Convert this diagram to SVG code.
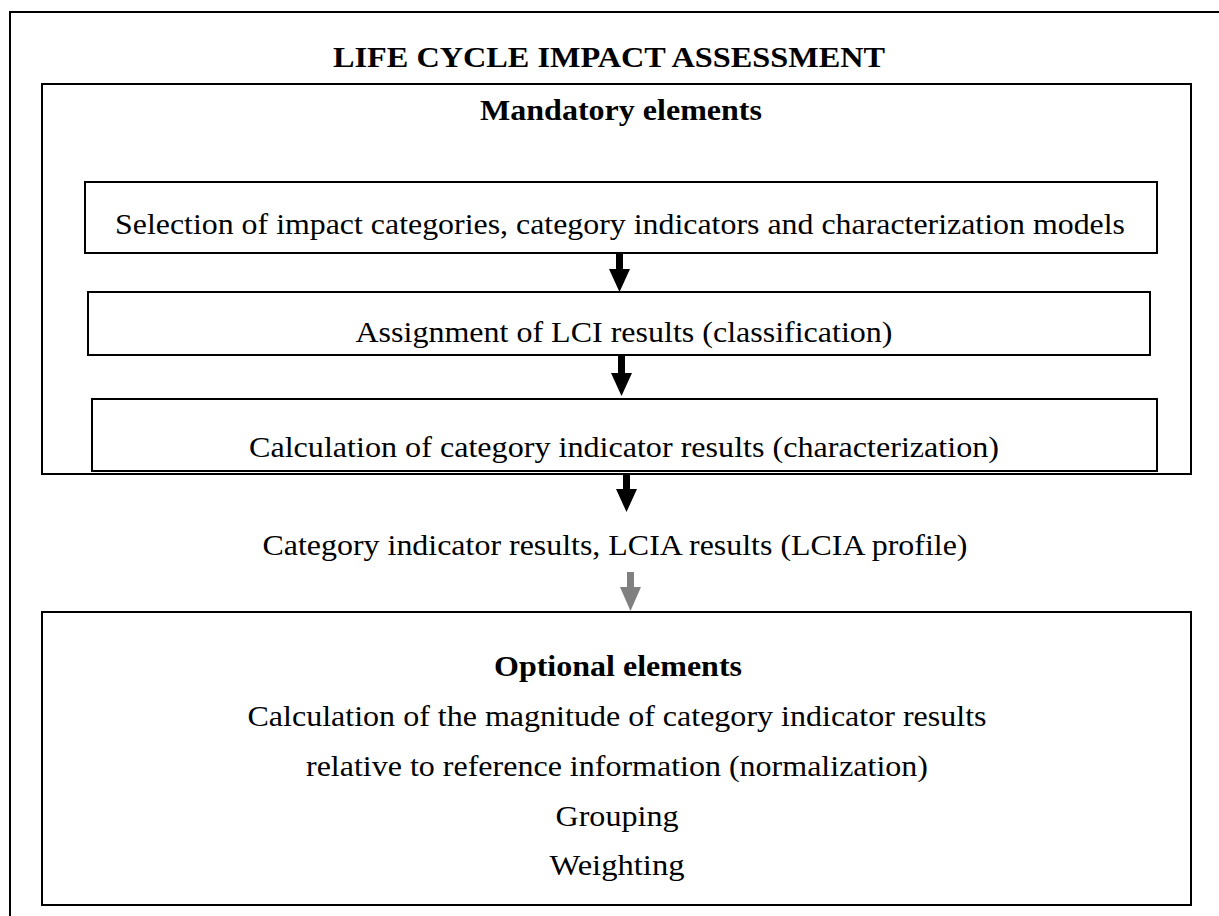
<svg xmlns="http://www.w3.org/2000/svg" width="1219" height="916" viewBox="0 0 1219 916">
<style>
.box{fill:none;stroke:#000;stroke-width:2}
.t{font-family:"Liberation Serif","Times New Roman",serif;font-size:28.5px;fill:#000;text-anchor:middle}
.b{font-weight:bold}
.arr{fill:#000}
.garr{fill:#808080}
</style>
<rect width="1219" height="916" fill="#fff"/>
<g id="outer">
<path class="box" d="M10,925 L10,12 L1230,12"/>
<text class="t b" x="609" y="67" textLength="552" lengthAdjust="spacingAndGlyphs">LIFE CYCLE IMPACT ASSESSMENT</text>
</g>
<g id="mandatory">
<rect class="box" x="42" y="84" width="1149" height="390"/>
<text class="t b" x="621" y="120" textLength="282" lengthAdjust="spacingAndGlyphs">Mandatory elements</text>
</g>
<g id="selection">
<rect class="box" x="85" y="182" width="1072" height="71"/>
<text class="t" x="620" y="234" textLength="1010" lengthAdjust="spacingAndGlyphs">Selection of impact categories, category indicators and characterization models</text>
</g>
<g id="assignment">
<rect class="box" x="88" y="292" width="1062" height="63"/>
<text class="t" x="624" y="342" textLength="537" lengthAdjust="spacingAndGlyphs">Assignment of LCI results (classification)</text>
</g>
<g id="calculation">
<rect class="box" x="92" y="399" width="1065" height="72"/>
<text class="t" x="624" y="457" textLength="750" lengthAdjust="spacingAndGlyphs">Calculation of category indicator results (characterization)</text>
</g>
<g id="results">
<text class="t" x="615" y="555" textLength="705" lengthAdjust="spacingAndGlyphs">Category indicator results, LCIA results (LCIA profile)</text>
</g>
<g id="optional">
<rect class="box" x="42" y="612" width="1149" height="293"/>
<text class="t b" x="618" y="676" textLength="248" lengthAdjust="spacingAndGlyphs">Optional elements</text>
<text class="t" x="617" y="726" textLength="739" lengthAdjust="spacingAndGlyphs">Calculation of the magnitude of category indicator results</text>
<text class="t" x="617" y="776" textLength="622" lengthAdjust="spacingAndGlyphs">relative to reference information (normalization)</text>
<text class="t" x="617" y="826" textLength="123" lengthAdjust="spacingAndGlyphs">Grouping</text>
<text class="t" x="617" y="875" textLength="135" lengthAdjust="spacingAndGlyphs">Weighting</text>
</g>
<g id="connectors">
<polygon class="arr" points="616,254 623,254 623,269 630,269 619.5,292 609,269 616,269"/>
<polygon class="arr" points="618,356 625,356 625,373 632,373 621.5,396 611,373 618,373"/>
<polygon class="arr" points="623,474 630,474 630,489 637,489 626.5,512 616,489 623,489"/>
<polygon class="garr" points="627,572 634,572 634,587 641,587 630.5,611 620,587 627,587"/>
</g>
</svg>
